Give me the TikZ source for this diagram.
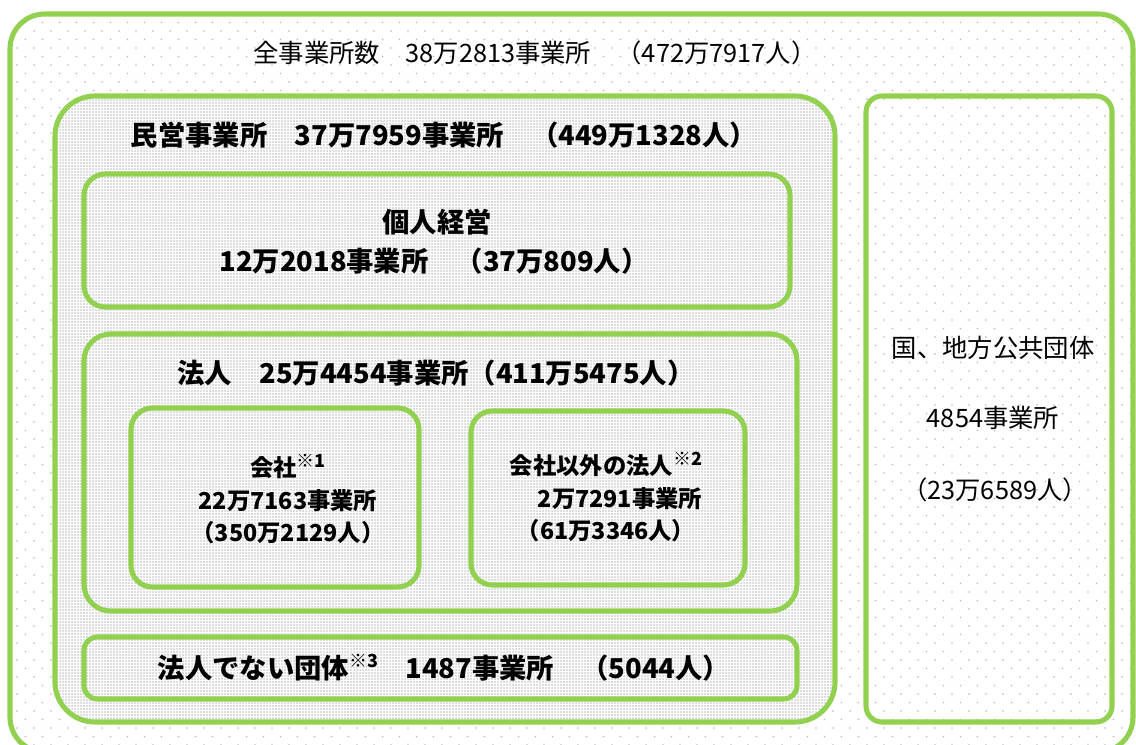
\documentclass[tikz,border=0pt]{standalone}
\usepackage{fontspec}
\setmainfont{Noto Sans CJK JP}
\usetikzlibrary{patterns.meta}
\definecolor{boxgreen}{HTML}{92D050}
\definecolor{dotgray}{HTML}{B8B8B8}
\newcommand{\notemark}[1]{\raisebox{0.4em}{\fontsize{13.5}{13.5}\selectfont ※#1}}
\tikzdeclarepattern{
  name=sparsedots,
  type=uncolored,
  bounding box={(-1pt,-1pt) and (13.75pt,13.75pt)},
  tile size={(12.75pt,12.75pt)},
  code={
    \fill (0,0) circle (0.7pt);
    \fill (6.375pt,6.375pt) circle (0.7pt);
  }
}
\tikzdeclarepattern{
  name=densedots,
  type=uncolored,
  bounding box={(-0.5pt,-0.5pt) and (2.75pt,2.75pt)},
  tile size={(2.25pt,2.25pt)},
  code={\fill (0,0) circle (0.65pt);}
}
\tikzset{
  greenbox/.style={draw=boxgreen, line width=3.8pt},
  sparse/.style={pattern={sparsedots}, pattern color=dotgray},
  dense/.style={pattern={densedots}, pattern color=dotgray},
  txt/.style={font=\fontsize{19}{22}\selectfont, inner sep=0pt},
  bold/.style={font=\fontsize{20.5}{24}\selectfont\bfseries, inner sep=0pt},
  inbox/.style={font=\fontsize{17.5}{24.5}\selectfont\bfseries, inner sep=0pt, align=center},
}
\begin{document}
\begin{tikzpicture}[x=0.75pt, y=-0.75pt]
  \useasboundingbox (0,0) rectangle (1136,745);
  \fill[white] (0,0) rectangle (1136,745);

  % all establishments
  \fill[sparse, rounded corners=26pt] (10,14) rectangle (1133,752);
  \draw[greenbox, rounded corners=26pt] (10,14) rectangle (1133,752);
  \node[txt] (all) at (535,53) {全事業所数　38万2813事業所　（472万7917人）};

  % private establishments
  \fill[white, rounded corners=30pt] (55,96) rectangle (835,722);
  \fill[dense, rounded corners=30pt] (55,96) rectangle (835,722);
  \draw[greenbox, rounded corners=30pt] (55,96) rectangle (835,722);
  \node[bold] (private) at (444,135) {民営事業所　37万7959事業所　（449万1328人）};

  % sole proprietors
  \draw[greenbox, rounded corners=16pt] (84,174) rectangle (790,307);
  \node[bold] (sole) at (437,222) {個人経営};
  \node[bold] (solenum) at (434,261) {12万2018事業所　（37万809人）};

  % corporations
  \draw[greenbox, rounded corners=20pt] (84,334) rectangle (797,611);
  \node[bold] (corp) at (436,373) {法人　25万4454事業所（411万5475人）};

  \draw[greenbox, rounded corners=16pt] (131,408) rectangle (419,587);
  \node[inbox] (company) at (288,499)
    {会社\notemark{1}\\ 22万7163事業所\\（350万2129人）};

  \draw[greenbox, rounded corners=16pt] (471,411) rectangle (745,585);
  \node[inbox] (other) at (606,497)
    {会社以外の法人\notemark{2}\\ \hspace{1.2em}2万7291事業所\\（61万3346人）};

  % non-corporate groups
  \draw[greenbox, rounded corners=10pt] (84,637) rectangle (797,699);
  \node[bold] (group) at (444,668) {法人でない団体\notemark{3}　1487事業所　（5044人）};

  % public sector
  \fill[white, rounded corners=12pt] (866,96) rectangle (1112,722);
  \fill[sparse, rounded corners=12pt] (866,96) rectangle (1112,722);
  \draw[greenbox, rounded corners=12pt] (866,96) rectangle (1112,722);
  \node[txt] (public) at (993,348) {国、地方公共団体};
  \node[txt] (publicnum) at (993,418) {4854事業所};
  \node[txt] (publicppl) at (995,490) {（23万6589人）};
\end{tikzpicture}
\end{document}
